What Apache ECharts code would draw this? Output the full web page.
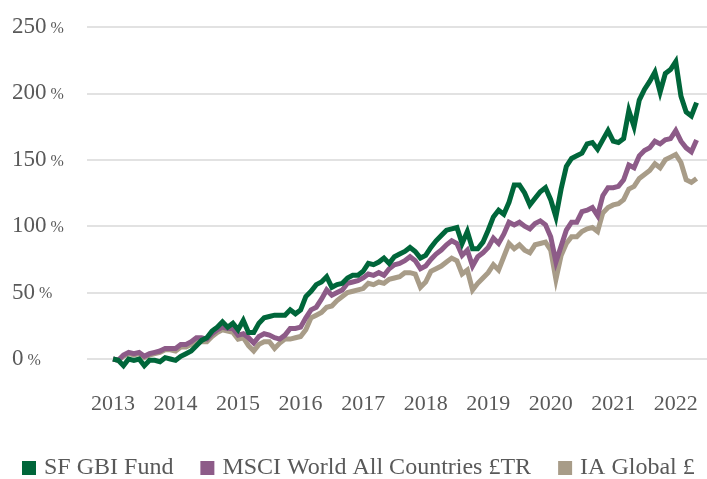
<!DOCTYPE html>
<html>
<head>
<meta charset="utf-8">
<script src="https://cdn.jsdelivr.net/npm/echarts@6/dist/echarts.min.js"></script>
<style>html,body{margin:0;padding:0;background:#fff}#c{width:707px;height:479px}</style>
</head>
<body>
<div id="c"></div>
<script>
// Axis: monthly categories, Aug 2012 .. Jul 2022 (data starts Jan 2013)
const startYear = 2012, startMonth = 8, monthCount = 120;
const leadingEmptyMonths = 5;
const yTicks = [0, 50, 100, 150, 200, 250];
const seriesNames = ['SF GBI Fund', 'MSCI World All Countries £TR', 'IA Global £'];

// Cumulative return (%) monthly from Jan 2013
const sfGbiFund = [0,-1,-5,0,-1,0,-5,-1,-1,-2,1,0,
 -1,2,4,6,10,14,16,21,24,28,24,27,
 22,29,20,20,27,31,32,33,33,33,37,34,
 37,47,51,56,58,62,54,56,57,61,63,63,
 66,72,71,73,76,72,77,79,81,84,81,76,
 78,84,89,93,97,98,99,87,96,83,83,88,
 97,107,112,109,118,131,131,125,116,121,126,129,
 120,107,128,145,151,153,155,162,163,158,165,172,
 164,163,166,187,175,195,203,209,216,201,215,218,
 224,198,186,183,193];
const msciWorld = [0,-1,3,5,4,5,2,4,5,6,8,8,
 8,11,11,13,16,16,15,19,22,24,23,23,
 18,19,16,12,17,19,18,16,15,18,23,23,
 24,31,37,39,45,52,48,50,52,57,58,59,
 61,64,63,65,63,68,71,72,74,77,74,68,
 70,75,79,82,86,89,87,78,82,70,77,80,
 84,91,87,94,103,101,103,100,98,102,104,101,
 92,73,85,97,103,103,111,112,114,108,123,129,
 129,130,135,146,144,153,157,159,164,162,165,166,
 172,164,159,156,165];
const iaGlobal = [0,-1,2,4,3,4,1,3,4,5,7,7,
 6,9,9,11,14,13,13,17,20,22,21,20,
 15,16,10,6,11,13,13,8,12,15,15,16,
 17,22,31,33,35,39,40,44,47,50,51,52,
 53,57,56,58,57,60,61,62,65,65,64,54,
 58,66,68,70,73,76,74,64,67,52,57,61,
 65,71,67,77,87,83,86,82,80,86,87,88,
 82,60,78,87,92,92,96,98,99,96,110,114,
 116,117,120,128,130,136,139,142,147,144,150,152,
 154,148,135,133,136];

const months = [];
for (let i = 0; i < monthCount; i++) {
  const t = (startMonth - 1) + i;
  const y = startYear + Math.floor(t / 12);
  const m = (t % 12) + 1;
  months.push(y + '-' + (m < 10 ? '0' + m : m));
}
function pad(arr) {
  const out = [];
  for (let i = 0; i < leadingEmptyMonths; i++) out.push(null);
  return out.concat(arr);
}

const FONT = 'Liberation Serif';
const TXT = '#595959';
const colors = ['#00663A', '#8D5B88', '#A89C88'];

const chart = echarts.init(document.getElementById('c'));
chart.setOption({
  animation: false,
  grid: { left: 87, right: 0, top: 27, bottom: 120, containLabel: false },
  legend: {
    data: seriesNames,
    left: 22, bottom: -1, padding: 0,
    icon: 'rect', itemWidth: 14, itemHeight: 14, itemGap: 27,
    textStyle: { fontFamily: FONT, fontSize: 24, color: TXT, padding: [0, 0, 0, 3] }
  },
  xAxis: {
    type: 'category', data: months, boundaryGap: false,
    axisLine: { show: false }, axisTick: { show: false },
    splitLine: { show: false },
    axisLabel: {
      interval: (idx, val) => val.slice(5) === '01',
      formatter: v => v.slice(0, 4),
      fontFamily: FONT, fontSize: 22, color: TXT, margin: 34
    }
  },
  yAxis: {
    type: 'value', min: yTicks[0], max: yTicks[yTicks.length - 1], interval: 50,
    axisLine: { show: false }, axisTick: { show: false },
    splitLine: { lineStyle: { color: '#d9d9d9', width: 1.5 } },
    axisLabel: {
      align: 'left', margin: 75,
      formatter: v => '{n|' + v + '}{p|%}',
      rich: {
        n: { fontFamily: FONT, fontSize: 23, color: TXT },
        p: { fontFamily: FONT, fontSize: 16, color: TXT, padding: [3, 0, 0, 4] }
      }
    }
  },
  series: [
    { name: seriesNames[2], type: 'line', data: pad(iaGlobal), z: 2 },
    { name: seriesNames[1], type: 'line', data: pad(msciWorld), z: 3 },
    { name: seriesNames[0], type: 'line', data: pad(sfGbiFund), z: 4 }
  ].map(s => Object.assign(s, {
    showSymbol: false, symbol: 'none', clip: false,
    lineStyle: { width: 5, color: colors[seriesNames.indexOf(s.name)], join: 'miter' },
    itemStyle: { color: colors[seriesNames.indexOf(s.name)] }
  }))
});
</script>
</body>
</html>
